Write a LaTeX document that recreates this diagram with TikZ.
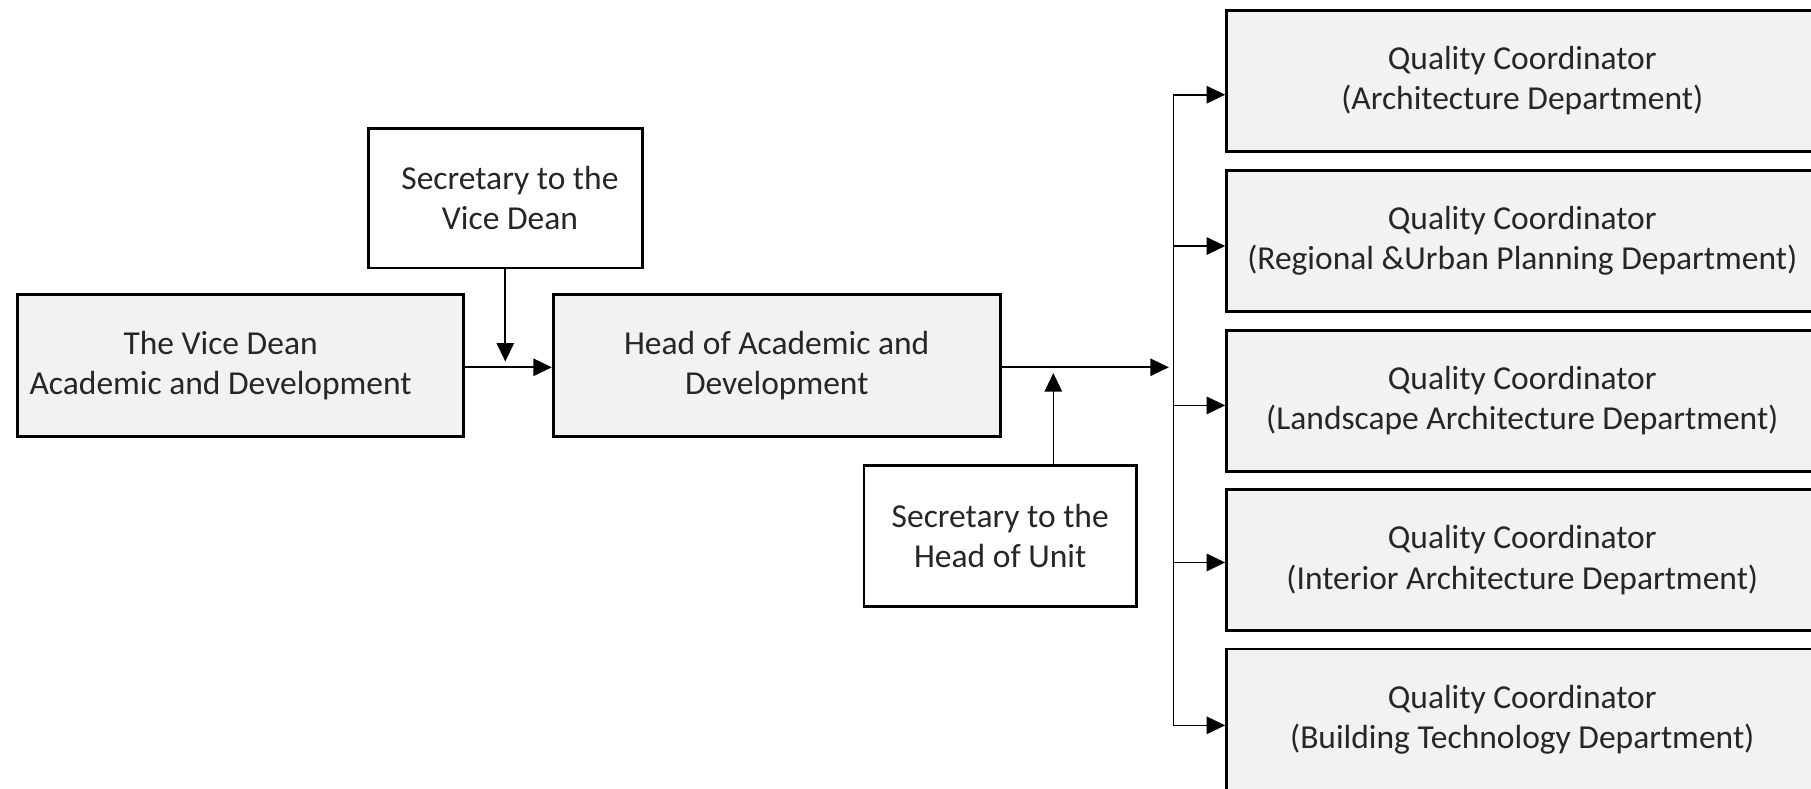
\documentclass[tikz,border=0pt]{standalone}
\usepackage{fontspec}
\setmainfont{Carlito}
\usetikzlibrary{arrows.meta}
\definecolor{boxfill}{HTML}{F2F2F2}
\definecolor{txt}{HTML}{262626}
\begin{document}
\begin{tikzpicture}[x=1pt,y=-1pt,
  every node/.style={font=\fontsize{29}{35}\selectfont, text=txt, align=center, inner sep=0pt},
  graybox/.style={draw=black, line width=2.4pt, fill=boxfill},
  whitebox/.style={draw=black, line width=2.4pt, fill=white},
  conn/.style={draw=black, line width=1.4pt},
  arr/.style={conn, -{Triangle[length=16pt,width=15pt]}}]
\useasboundingbox (0,0) rectangle (1568,683);
\clip (0,0) rectangle (1568,683);
% nodes
\node[graybox, minimum width=386pt, minimum height=123pt] (vd) at (208,316.5) {The Vice Dean\hspace*{34pt}\\Academic and Development\hspace*{34pt}};
\node[whitebox, minimum width=237pt, minimum height=121pt] (svd) at (437.5,171.5) {\hspace*{8pt}Secretary to the\\\hspace*{8pt}Vice Dean};
\node[graybox, minimum width=387pt, minimum height=123pt] (head) at (672.5,316.5) {Head of Academic and\\Development};
\node[whitebox, minimum width=236pt, minimum height=122pt] (sh) at (866,464) {Secretary to the\\Head of Unit};
\node[graybox, minimum width=512pt, minimum height=122pt] (q1) at (1318,70) {Quality Coordinator\\(Architecture Department)};
\node[graybox, minimum width=512pt, minimum height=122pt] (q2) at (1318,208.5) {Quality Coordinator\\(Regional \&Urban Planning Department)};
\node[graybox, minimum width=512pt, minimum height=122pt] (q3) at (1318,347) {Quality Coordinator\\(Landscape Architecture Department)};
\node[graybox, minimum width=512pt, minimum height=122pt] (q4) at (1318,485) {Quality Coordinator\\(Interior Architecture Department)};
\node[graybox, minimum width=512pt, minimum height=122pt] (q5) at (1318,623) {Quality Coordinator\\(Building Technology Department)};
% coordinates
\coordinate (bus) at (1016,318);
\coordinate (b1) at (1016,82);
\coordinate (b2) at (1016,213);
\coordinate (b3) at (1016,351);
\coordinate (b4) at (1016,487);
\coordinate (b5) at (1016,628);
\coordinate (shtop) at (912,403);
\coordinate (shend) at (912,318);
% connectors
\draw[arr] (vd.east |- 0,318) -- (head.west |- 0,318);
\draw[arr, shorten >=5pt] (svd.south) -- (svd.south |- 0,318);
\draw[arr, shorten >=4pt] (head.east |- bus) -- (bus);
\draw[arr, shorten >=5pt] (shtop) -- (shend);
\draw[conn] (b1) -- (b5);
\draw[arr] (b1) -- (b1 -| q1.west);
\draw[arr] (b2) -- (b2 -| q2.west);
\draw[arr] (b3) -- (b3 -| q3.west);
\draw[arr] (b4) -- (b4 -| q4.west);
\draw[arr] (b5) -- (b5 -| q5.west);
\end{tikzpicture}
\end{document}
